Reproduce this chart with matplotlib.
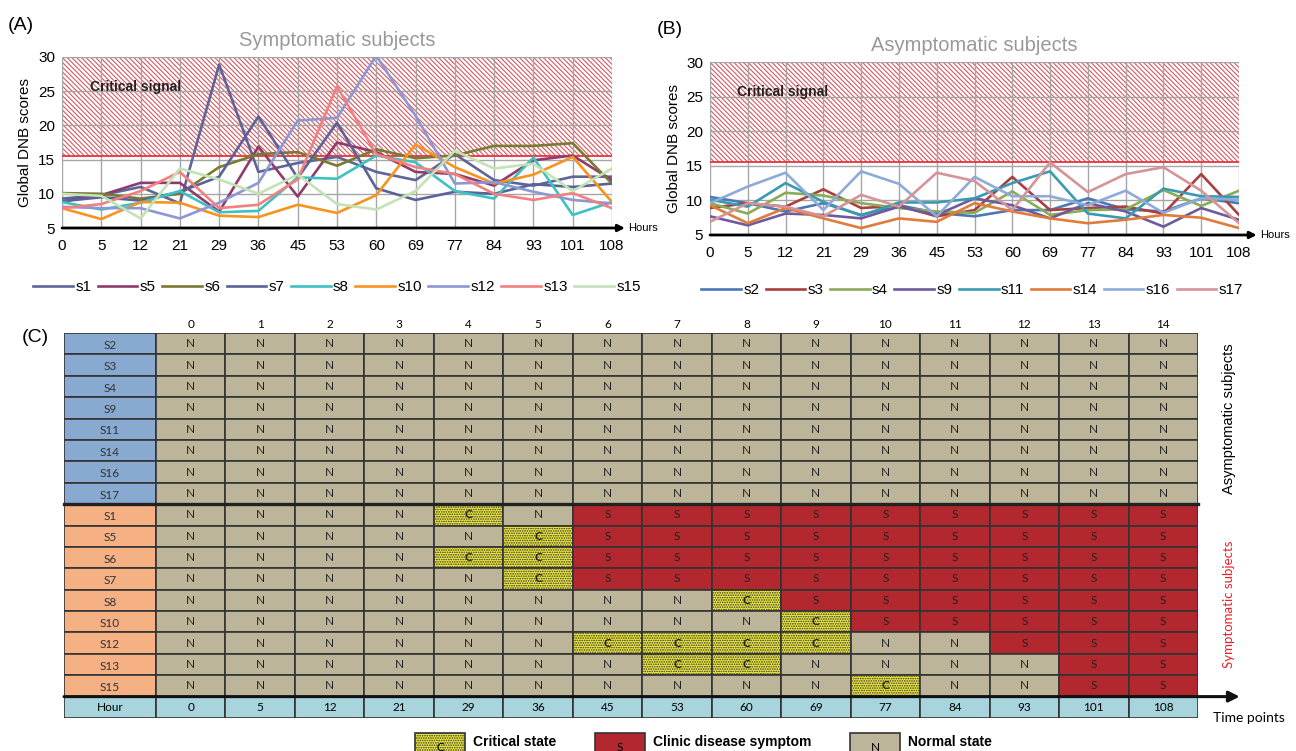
import matplotlib.pyplot as plt
from matplotlib.patches import Rectangle

plt.rcParams['font.family'] = ['Liberation Sans', 'DejaVu Sans']
plt.rcParams['hatch.linewidth'] = 0.8

hours = ['0', '5', '12', '21', '29', '36', '45', '53', '60', '69', '77', '84', '93', '101', '108']

# (A) symptomatic subjects
sym_names = ['s1', 's5', 's6', 's7', 's8', 's10', 's12', 's13', 's15']
sym_colors = ['#5f6499', '#8e3b6d', '#7a7a32', '#5a6399', '#3cc2c0', '#f7931e', '#8c97d6', '#f28080', '#c3e2b5']
s1 = [9.3, 9.8, 11.0, 8.6, 28.9, 13.2, 14.5, 15.4, 13.2, 12.0, 15.8, 12.0, 11.2, 12.5, 12.5]
s5 = [8.9, 9.8, 11.6, 11.6, 7.4, 16.9, 9.6, 17.5, 16.1, 13.2, 12.9, 11.2, 14.9, 15.6, 12.0]
s6 = [10.1, 10.0, 9.3, 10.0, 13.9, 15.8, 16.1, 14.1, 16.5, 15.2, 15.6, 17.0, 17.0, 17.4, 11.5]
s7 = [8.9, 9.5, 9.0, 10.3, 12.5, 21.3, 12.3, 20.4, 10.8, 9.1, 10.3, 10.0, 11.4, 11.0, 11.5]
s8 = [8.8, 7.7, 8.7, 10.4, 7.3, 7.5, 12.4, 12.2, 15.6, 14.6, 10.4, 9.3, 15.3, 6.9, 8.8]
s10 = [7.9, 6.3, 8.8, 8.7, 6.8, 6.6, 8.4, 7.2, 9.8, 17.2, 13.9, 11.5, 12.8, 15.4, 8.8]
s12 = [8.1, 7.9, 7.9, 6.4, 8.7, 11.6, 20.7, 21.1, 30.2, 21.4, 11.5, 11.7, 10.3, 9.1, 8.6]
s13 = [7.9, 8.5, 10.4, 13.2, 7.9, 8.4, 12.1, 25.7, 15.8, 13.9, 12.9, 10.0, 9.1, 10.1, 7.9]
s15 = [10.0, 9.7, 6.4, 13.7, 12.1, 10.0, 12.8, 8.5, 7.7, 10.4, 16.3, 13.7, 14.4, 10.4, 13.7]
sym_series = [s1, s5, s6, s7, s8, s10, s12, s13, s15]

# (B) asymptomatic subjects
asym_names = ['s2', 's3', 's4', 's9', 's11', 's14', 's16', 's17']
asym_colors = ['#4a78b5', '#a8403f', '#8aac56', '#6e5a9c', '#3a9ab2', '#e07b39', '#8eabd8', '#d59497']
s2 = [10.5, 9.6, 8.4, 9.6, 7.9, 9.3, 8.2, 7.7, 8.6, 8.6, 10.3, 8.7, 8.4, 10.3, 9.6]
s3 = [8.9, 9.6, 9.1, 11.6, 8.9, 9.2, 7.7, 8.6, 13.4, 8.6, 8.9, 9.1, 8.1, 13.8, 7.9]
s4 = [9.6, 8.1, 11.1, 10.7, 9.6, 8.9, 8.4, 8.2, 11.3, 7.9, 8.6, 8.7, 11.5, 9.2, 11.4]
s9 = [7.7, 6.4, 8.1, 7.9, 7.4, 9.1, 7.9, 10.3, 9.3, 7.4, 9.6, 8.4, 6.2, 8.9, 7.2]
s11 = [10.1, 9.1, 12.5, 9.8, 7.8, 9.7, 9.7, 10.3, 12.5, 14.2, 8.1, 7.4, 11.7, 10.6, 10.5]
s14 = [9.3, 6.7, 8.9, 7.4, 6.0, 7.4, 6.9, 9.6, 8.4, 7.4, 6.7, 7.2, 7.9, 7.5, 6.0]
s16 = [9.6, 12.0, 14.0, 8.6, 14.2, 12.4, 7.7, 13.4, 10.6, 10.6, 9.3, 11.4, 8.2, 10.3, 10.1]
s17 = [6.9, 9.6, 9.1, 7.7, 10.8, 9.1, 14.0, 12.8, 8.6, 15.5, 11.2, 13.8, 14.8, 11.4, 6.7]
asym_series = [s2, s3, s4, s9, s11, s14, s16, s17]

critical_level = 15.5

# (C) state table
asym_rows = ['S2', 'S3', 'S4', 'S9', 'S11', 'S14', 'S16', 'S17']
sym_rows = ['S1', 'S5', 'S6', 'S7', 'S8', 'S10', 'S12', 'S13', 'S15']
asym_states = ['NNNNNNNNNNNNNNN'] * 8
sym_states = ['NNNNCNSSSSSSSSS',
              'NNNNNCSSSSSSSSS',
              'NNNNCCSSSSSSSSS',
              'NNNNNCSSSSSSSSS',
              'NNNNNNNNCSSSSSS',
              'NNNNNNNNNCSSSSS',
              'NNNNNNCCCCNNSSS',
              'NNNNNNNCCNNNNSS',
              'NNNNNNNNNNCNNSS']

state_face = {'N': '#bcb59a', 'S': '#b2282e', 'C': '#eeea3c'}
state_hatch = {'N': None, 'S': None, 'C': '.......'}
cell_font = ['Lato', 'DejaVu Sans']
cell_fs = 8.5


def draw_panel(ax, names, series, colors, title, arrow_x, text_x):
    ax.set_xlim(0, len(hours) - 1)
    ax.set_ylim(5, 30)
    ax.axhspan(critical_level, 30, facecolor='white', edgecolor='#d65a62',
               hatch='\\' * 7, linewidth=0, zorder=0.2)
    ax.axhline(critical_level, color='#e8333a', lw=1.3, zorder=1)
    ax.set_axisbelow(True)
    ax.grid(True, color='#a6a6a6', lw=1.0)
    x = list(range(len(hours)))
    for name, vals, c in zip(names, series, colors):
        ax.plot(x, vals, color=c, lw=1.9, label=name, zorder=3)
    ax.set_xticks(x)
    ax.set_xticklabels(hours, fontsize=11)
    ax.set_yticks([5, 10, 15, 20, 25, 30])
    ax.tick_params(length=0, labelsize=11, pad=5)
    ax.tick_params(axis='x', pad=8)
    for sp in ['left', 'right', 'top', 'bottom']:
        ax.spines[sp].set_visible(False)
    ax.annotate('', xy=(arrow_x, 5), xytext=(0, 5), annotation_clip=False,
                arrowprops=dict(arrowstyle='-|>', color='black', lw=2, mutation_scale=10,
                                shrinkA=0, shrinkB=0))
    ax.text(text_x, 5, 'Hours', fontsize=8, va='center', ha='left')
    ax.text(0.72, 25.6, 'Critical signal', fontsize=10, fontweight='bold', color='#222222',
            va='center', ha='left')
    ax.set_ylabel('Global DNB scores', fontsize=11, labelpad=4)
    ax.set_title(title, fontsize=14.5, color='#999999', pad=8)


fig = plt.figure(figsize=(12.96, 7.51), dpi=100)

axA = fig.add_axes([62 / 1296, 1 - 228 / 751, 550 / 1296, 171 / 751])
draw_panel(axA, sym_names, sym_series, sym_colors, 'Symptomatic subjects', 14.33, 14.41)
hA, lA = axA.get_legend_handles_labels()
fig.legend(hA, lA, loc='center', bbox_to_anchor=(0.260, 0.618), ncol=9, frameon=False,
           fontsize=11, handlelength=2.6, handletextpad=0.15, columnspacing=0.42)

axB = fig.add_axes([710 / 1296, 1 - 235 / 751, 529 / 1296, 173 / 751])
draw_panel(axB, asym_names, asym_series, asym_colors, 'Asymptomatic subjects', 14.47, 14.55)
hB, lB = axB.get_legend_handles_labels()
fig.legend(hB, lB, loc='center', bbox_to_anchor=(0.750, 0.614), ncol=8, frameon=False,
           fontsize=11, handlelength=2.6, handletextpad=0.15, columnspacing=0.42)

fig.text(8 / 1296, 1 - 25 / 751, '(A)', fontsize=14, va='center', ha='left')
fig.text(657 / 1296, 1 - 30 / 751, '(B)', fontsize=14, va='center', ha='left')
fig.text(22 / 1296, 1 - 338 / 751, '(C)', fontsize=14, va='center', ha='left')

# table panel: x in columns (label column is 1.324 wide), y in rows
axC = fig.add_axes([64 / 1296, 1 - 718 / 751, 1134 / 1296, 385 / 751])
lab_w = 1.324
axC.set_xlim(-lab_w, 15)
axC.set_ylim(18, 0)
axC.axis('off')

rows = asym_rows + sym_rows
states = asym_states + sym_states
for r, (name, st) in enumerate(zip(rows, states)):
    lab_color = '#88aad0' if r < len(asym_rows) else '#f5b184'
    axC.add_patch(Rectangle((-lab_w, r), lab_w, 1, facecolor=lab_color, edgecolor='#333333', lw=1.2))
    axC.text(-lab_w / 2, r + 0.58, name, fontsize=cell_fs, ha='center', va='center', family=cell_font,
             color='#333333')
    for c, s in enumerate(st):
        axC.add_patch(Rectangle((c, r), 1, 1, facecolor=state_face[s], edgecolor='#333333', lw=1.2,
                                hatch=state_hatch[s]))
        axC.text(c + 0.5, r + 0.5, s, fontsize=cell_fs, ha='center', va='center', family=cell_font,
                 color='#222222', fontweight='bold' if s == 'C' else 'normal')

hour_row = len(rows)
axC.add_patch(Rectangle((-lab_w, hour_row), lab_w, 1, facecolor='#a8d4dd', edgecolor='#333333', lw=1.2))
axC.text(-lab_w / 2, hour_row + 0.5, 'Hour', fontsize=cell_fs, ha='center', va='center', family=cell_font)
for c, h in enumerate(hours):
    axC.add_patch(Rectangle((c, hour_row), 1, 1, facecolor='#a8d4dd', edgecolor='#333333', lw=1.2))
    axC.text(c + 0.5, hour_row + 0.5, h, fontsize=cell_fs, ha='center', va='center', family=cell_font)
    axC.text(c + 0.5, -0.4, str(c), fontsize=cell_fs, ha='center', va='center', family=cell_font)

axC.plot([-lab_w, 15], [len(asym_rows), len(asym_rows)], color='#222222', lw=2.4, clip_on=False)
axC.annotate('', xy=(15.6, hour_row), xytext=(-lab_w, hour_row), annotation_clip=False,
             arrowprops=dict(arrowstyle='-|>', color='#111111', lw=2.2, mutation_scale=16,
                             shrinkA=0, shrinkB=0))
axC.text(15.45, len(asym_rows) / 2, 'Asymptomatic subjects', rotation=90, fontsize=10.5,
         ha='center', va='center', clip_on=False)
axC.text(15.45, (len(asym_rows) + hour_row) / 2 + 0.2, 'Symptomatic subjects', rotation=90,
         fontsize=9.5, color='#e8202a', ha='center', va='center', family=cell_font, clip_on=False)
axC.text(15.22, 18.0, 'Time points', fontsize=10, ha='left', va='center', family=cell_font,
         clip_on=False)

# legend boxes for the table
legend_items = [('C', 'Critical state', 3.73), ('S', 'Clinic disease symptom', 6.32), ('N', 'Normal state', 9.99)]
for s, label, x0 in legend_items:
    axC.add_patch(Rectangle((x0, 18.69), 0.72, 1.1, facecolor=state_face[s], edgecolor='#333333', lw=1.2,
                            hatch=state_hatch[s], clip_on=False))
    axC.text(x0 + 0.36, 19.4, s, fontsize=cell_fs, ha='center', va='center', family=cell_font, clip_on=False)
    axC.text(x0 + 0.83, 19.1, label, fontsize=10, fontweight='bold', ha='left', va='center', clip_on=False)

fig.savefig('out.png', dpi=100)
